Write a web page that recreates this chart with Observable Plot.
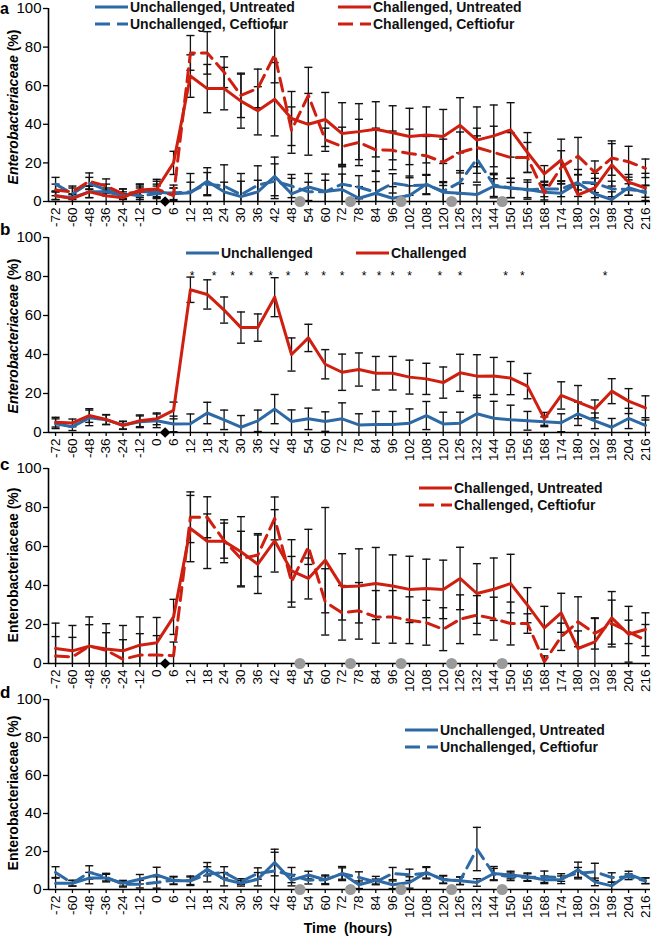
<!DOCTYPE html>
<html><head><meta charset="utf-8">
<script src="https://cdn.jsdelivr.net/npm/d3@7"></script>
<script src="https://cdn.jsdelivr.net/npm/@observablehq/plot@0.6"></script>
<style>
body{margin:0;background:#fff;font-family:"Liberation Sans",Arial,Helvetica,sans-serif;}
#wrap{position:relative;width:653px;height:937px;overflow:hidden;background:#fff;}
.panel{position:absolute;left:0;}
.plab{position:absolute;font-weight:bold;font-size:17px;line-height:17px;}
.leg{position:absolute;font-weight:bold;font-size:14px;line-height:16px;height:16px;display:flex;align-items:center;white-space:nowrap;color:#111;}
.leg svg{margin-right:2px;}
.ylab{position:absolute;font-weight:bold;font-size:14px;white-space:nowrap;transform:translate(-50%,-50%) rotate(-90deg);line-height:16px;}
.xlab{position:absolute;font-weight:bold;font-size:14px;white-space:pre;transform:translate(-50%,-50%);}
</style></head><body><div id="wrap"></div>
<script>
// ---- categories (hours) ----
const times = ["-72","-60","-48","-36","-24","-12","0","6","12","18","24","30","36","42","48","54","60","72","78","84","96","102","108","120","126","132","144","150","156","168","174","180","192","198","204","216"];
const yTicks = [0,20,40,60,80,100];

// ---- panel a ----
const aUU    = [3,2,5,5,3,5,5,4,4.5,10.5,5,2.5,5,13,4,7.5,5.2,6.2,1.7,4.3,1.7,3.1,9,4.8,4.3,3.6,7.9,7,6.2,4.8,4.3,9.6,3.9,1,7.2,4.5];
const aUUerr = [2,2,3,2,2,3,3,3,10,7,5,8,6,10,8,7,9,8,6,6,6,5,5,5,5,5,6,5,5,4,5,7,5,4,4,4];
const aUC    = [9,4,9.5,6,4,3,4,4.5,5,9,8,3.5,8.5,10.5,8,5,5,9,7.4,4.8,9.4,8.2,8.6,5.3,10,22,8.6,7,6,6.5,6.5,10,9.6,6.5,6.2,5.2];
const aUCerr = [3.5,3,3,3,2.5,4,5,4,5,6,11,11,10,9,6,5,6,9,6,11,5,5,5,5,6,12,6,5,4,4,4,4,5,4,3,3];
const aCU    = [3,1.5,5,3,2,6,6.5,20,65,58.5,58.5,52,47,53,43,40,42.5,35.2,36.2,37.4,35.6,33.7,34.5,33.7,39.5,31.8,34,37.1,25.4,14.3,21.5,3.4,7,19,10,7];
const aCUerr = [2,2,3,3,2,3,4,6,11,12.5,11,14,12.5,19,14,16,14,16,14.5,14.3,14,14.6,14.5,14,14.3,17.2,16,14.1,10.3,4.3,10.8,5,5,11,4,7.6];
const aCC    = [6,5,10.5,8,4,5,6.5,3,77,77,67,55,58.6,76,37,55,32,28.5,30.6,26.8,26.5,24.9,23.7,20.3,25.4,28,25.4,22.8,22.8,4.3,17.7,23.5,15.1,22.5,20.6,17.2];
const aCCerr = [3,3,4.3,3.7,2.5,4,5,4,9,11,8,11.5,10,14.5,12,14.5,6,10,12,11.2,10,12.6,10,12,10.6,10,13.6,12.9,7.8,4,8.6,9.7,5.9,8.9,8,4.8];

// ---- panel b ----
const bU    = [4.5,3,7.5,6.5,3.8,5.5,6,4.4,4.5,10,6.5,2.7,6,12,5.6,7,5.6,7,3.9,4.1,4.1,4.8,8.7,4.4,4.8,9.6,7.3,6.5,6,5.5,5,9.6,6,2.7,7.2,3.6];
const bUerr = [2.5,2,4,2.5,2,3,3.5,4,5,5.5,5,6,5.5,7.5,6,5.5,5,8.2,5.7,6.7,6.7,7.3,7.2,6,5.6,9.5,8.7,7.5,4.8,2.5,4.6,6,4,4.5,5.2,4];
const bC    = [5.3,4.9,8.7,6.7,3.6,6,7,11.3,73.2,70.8,62.8,53.8,53.8,69.4,40,48.5,35,30.9,32.3,30.4,30.4,28.4,27.5,25.6,30.6,28.9,29,27.9,23.8,7,19,15.6,12.1,21.2,16.1,12.6];
const bCerr = [2.5,2,3.5,2.5,2,3,3,4.3,6.5,7.5,6.7,8,7,10,8.5,7,7.5,9.3,8.5,8.6,8.6,8.7,8,8,9.5,11,9.5,8.5,6.5,3.3,7,8.5,4.6,6.4,6.4,6.2];
const starPos = [8.1,9.4,10.5,11.6,12.75,13.8,14.9,15.9,17.0,18.3,19.2,20.0,21.0,22.8,24.0,26.7,27.7,32.6];
const starLevel = 80;

// ---- panel c ----
const cCU    = [7.7,6.5,8.9,7.4,6.5,9.4,10.6,23.9,69.2,62.7,62.7,57.3,50.9,62.9,47.5,43.6,53,39.3,39.8,41,39.7,38,38.5,38,43.6,35.9,38.1,41,29.9,18.3,26,7.7,11.1,23.4,15,17.4];
const cCUerr = [13,13,15,13,13,14.5,13,9,17,14,11,18,15,16,16,10.5,27,17,19,18.5,16,17,15,15,16,15.3,16,15,9,11,10,9,12,13.5,14.3,8.6];
const cCC    = [3.8,3.4,8.9,6.8,2.2,4.3,4.3,4,75,75,63,53.8,55.6,74.4,41.9,59.8,31.6,26,27,23.9,23.9,22.2,20.9,17.6,22.7,24.8,23,20.5,20.5,0.9,13.7,21.4,15.4,20.5,16.2,12];
const cCCerr = [10,10,11,9,10,11,10,7,13,10.5,9,14,11,11,13,9,17,14,14.5,13.5,13.5,12,11.5,11,12.5,10,11,11,5,3,7,12.8,8,12,6,8];

// ---- panel d ----
const dUU    = [3.3,3.3,6,6,3.3,5.4,7.7,4.6,4.6,10.7,5.4,3.3,5.4,14.2,4.9,7.6,5.1,8.4,2.5,4.9,2.5,3.7,9,5.1,4.6,3.7,8.4,7.6,6.7,5.1,5.1,10.4,4,1.9,8.1,4.6];
const dUUerr = [3,1.5,3,2,1.5,2.5,4,2,2.5,3.5,3.5,1.5,3.5,7,3,2,2,3.7,2,2,2,3,3,2,2,2,3.7,2,2,2,2,4,2,2,1.5,1.5];
const dUC    = [9,3.3,9,6.5,2.8,2.8,3.7,4.9,4.6,8,9,4.2,8.4,9.8,7.6,4.9,5.1,8.4,6.3,4,8.4,7.7,8.6,5.4,4.6,21.3,8.1,6.7,6.3,6.7,6.3,8.6,9.3,6.3,6.7,4.6];
const dUCerr = [3,1.5,3.5,2,1.5,2,3,2,2,4,3,1.5,3,9.8,4,2,2.5,3,3,1.5,3.2,3,3,2,2,11.4,3,2,2,3,2,3,4.5,2.5,1.5,1.5];

// ---- event markers (placed between listed category and the next) ----
const challengeAfter = ["0"];
const ceftiofurAfter = ["48","72","96","120","144"];

const BLUE = "#2d69a5", RED = "#cf1f10";
const FONT = '"Liberation Sans", Arial, Helvetica, sans-serif';
const idx = t => times.indexOf(t);
const mk = (vals, errs) => vals.map((v, i) => ({i, v, lo: Math.max(0, v - errs[i]), hi: v + errs[i], hasLo: v - errs[i] > 0.3}));

function panelSvg({series, height, mt, mb, diamond, doses, stars}) {
  const marks = [];
  for (const s of series) {
    marks.push(Plot.ruleX(s.data, {x: "i", y1: "lo", y2: "hi", stroke: "#111", strokeWidth: 1.3}));
    marks.push(Plot.link(s.data, {x1: d => d.i - 0.24, x2: d => d.i + 0.24, y1: "hi", y2: "hi", stroke: "#111", strokeWidth: 1.4}));
    marks.push(Plot.link(s.data.filter(d => d.hasLo), {x1: d => d.i - 0.24, x2: d => d.i + 0.24, y1: "lo", y2: "lo", stroke: "#111", strokeWidth: 1.4}));
  }
  for (const s of series) {
    marks.push(Plot.line(s.data, {x: "i", y: "v", stroke: s.color, strokeWidth: 3, strokeDasharray: s.dash ? "13,7" : null, strokeLinejoin: "round"}));
  }
  marks.push(Plot.ruleY([0], {stroke: "#000", strokeWidth: 1.6}));
  marks.push(Plot.ruleX([-0.42], {stroke: "#000", strokeWidth: 1.6}));
  marks.push(Plot.axisX({ticks: d3.range(times.length), tickFormat: i => times[i], tickRotate: -90, tickSize: 4, tickPadding: 2, fontSize: 13.5, label: null, strokeWidth: 1.3}));
  marks.push(Plot.axisY({ticks: yTicks, tickSize: 5, tickPadding: 2, fontSize: 15, label: null, strokeWidth: 1.3}));
  if (doses) marks.push(Plot.dot(ceftiofurAfter, {x: t => idx(t) + 0.5, y: () => 0, r: 5.5, fill: "#9a9a9a"}));
  if (diamond) marks.push(Plot.dot(challengeAfter, {x: t => idx(t) + 0.5, y: () => 0, r: 4.8, symbol: "diamond2", fill: "#000"}));
  if (stars) marks.push(Plot.text(starPos, {x: d => d, y: () => starLevel, text: () => "*", fontSize: 12, fill: "#000"}));
  return Plot.plot({
    width: 653, height, marginTop: mt, marginBottom: mb, marginLeft: 48, marginRight: 3,
    x: {domain: [-0.42, 35.3]},
    y: {domain: [0, 100]},
    style: {fontFamily: FONT, color: "#000", background: "transparent", overflow: "visible"},
    marks
  });
}

const wrap = document.getElementById("wrap");
function place(top, svg) { const d = document.createElement("div"); d.className = "panel"; d.style.top = top + "px"; d.appendChild(svg); wrap.appendChild(d); }
function html(cls, left, top, inner) { const d = document.createElement("div"); d.className = cls; d.style.left = left + "px"; d.style.top = top + "px"; d.innerHTML = inner; wrap.appendChild(d); return d; }
function legend(x, cy, color, dash, text) {
  const sw = `<svg width="33" height="6" style="overflow:visible"><line x1="0" y1="3" x2="33" y2="3" stroke="${color}" stroke-width="3" ${dash ? 'stroke-dasharray="15,7"' : ''}/></svg>`;
  html("leg", x, cy - 8, sw + `<span>${text}</span>`);
}

place(0, panelSvg({height: 231, mt: 8, mb: 30, diamond: true, doses: true, series: [
  {data: mk(aUU, aUUerr), color: BLUE}, {data: mk(aUC, aUCerr), color: BLUE, dash: true},
  {data: mk(aCU, aCUerr), color: RED}, {data: mk(aCC, aCCerr), color: RED, dash: true}]}));
place(231, panelSvg({height: 231, mt: 6, mb: 30, diamond: true, stars: true, series: [
  {data: mk(bU, bUerr), color: BLUE}, {data: mk(bC, bCerr), color: RED}]}));
place(462, panelSvg({height: 231, mt: 6, mb: 30, diamond: true, doses: true, series: [
  {data: mk(cCU, cCUerr), color: RED}, {data: mk(cCC, cCCerr), color: RED, dash: true}]}));
place(693, panelSvg({height: 244, mt: 6, mb: 48, doses: true, series: [
  {data: mk(dUU, dUUerr), color: BLUE}, {data: mk(dUC, dUCerr), color: BLUE, dash: true}]}));

// panel letters
const la = html("plab", 0, 0, "a"); la.style.fontSize = "16px"; la.style.lineHeight = "18px";
html("plab", 0, 220.5, "b");
html("plab", 0, 455.5, "c");
html("plab", 0, 683.5, "d");

// y-axis titles
html("ylab", 12.5, 107, "<i>Enterobacteriaceae</i> (%)");
html("ylab", 12.5, 336, "<i>Enterobacteriaceae</i> (%)");
html("ylab", 12.5, 565, "Enterobacteriaceae (%)");
html("ylab", 12.5, 793, "Enterobacteriaceae (%)");

// x title
html("xlab", 348, 928, "Time  (hours)");

// legends
legend(95, 6.5, BLUE, false, "Unchallenged, Untreated");
legend(95, 24, BLUE, true, "Unchallenged, Ceftiofur");
legend(338, 6.5, RED, false, "Challenged, Untreated");
legend(338, 24, RED, true, "Challenged, Ceftiofur");
legend(186, 253, BLUE, false, "Unchallenged");
legend(356, 253, RED, false, "Challenged");
legend(419, 488, RED, false, "Challenged, Untreated");
legend(419, 505, RED, true, "Challenged, Ceftiofur");
legend(405, 730, BLUE, false, "Unchallenged, Untreated");
legend(405, 747, BLUE, true, "Unchallenged, Ceftiofur");
</script></body></html>
